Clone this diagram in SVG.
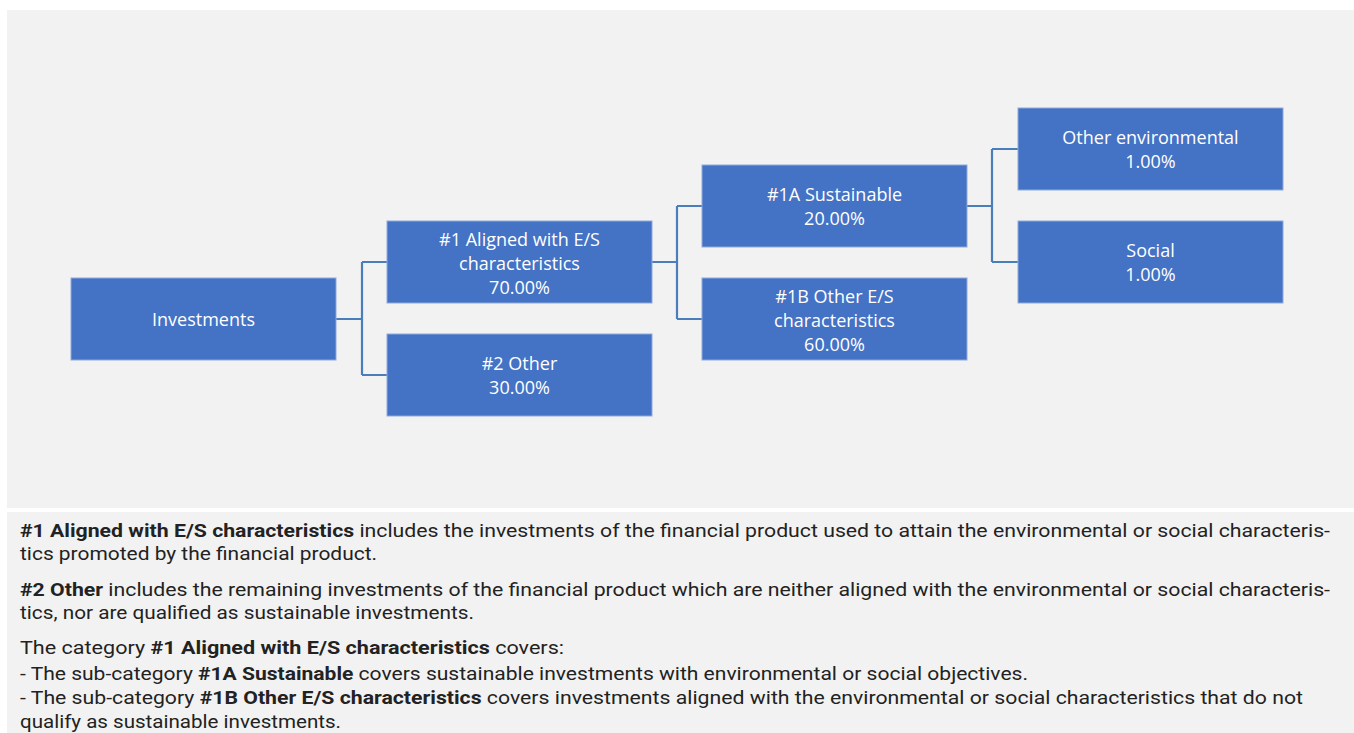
<svg xmlns="http://www.w3.org/2000/svg" width="1354" height="733" viewBox="0 0 1354 733">
<style>
.panel{fill:#f2f2f2}
.box{fill:#4472c4;stroke:#8eaadb;stroke-width:1}
.bt{font-family:"Open Sans","Liberation Sans",sans-serif;font-size:18px;fill:#ffffff;text-anchor:middle}
.conn{fill:none;stroke:#4a7ebb;stroke-width:2.2}
.note{font-family:"Roboto","Liberation Sans",sans-serif;font-size:17.5px;fill:#222222}
.b{font-weight:bold}
</style>
<rect width="1354" height="733" fill="#ffffff"/>
<rect class="panel" x="7" y="10" width="1347" height="498"/>
<rect class="panel" x="7" y="512" width="1347" height="221"/>

<g id="connectors">
<path class="conn" d="M336 319 H362 M362 262 V375 M362 262 H387 M362 375 H387"/>
<path class="conn" d="M652 262 H677 M677 206 V319 M677 206 H702 M677 319 H702"/>
<path class="conn" d="M967 206 H992 M992 149 V262 M992 149 H1018 M992 262 H1018"/>
</g>

<g id="investments">
<rect class="box" x="71" y="278" width="265" height="82"/>
<text class="bt" x="203.5" y="325.5">Investments</text>
</g>
<g id="aligned">
<rect class="box" x="387" y="221" width="265" height="82"/>
<text class="bt" x="519.5" y="245.5">#1 Aligned with E/S</text>
<text class="bt" x="519.5" y="269.5">characteristics</text>
<text class="bt" x="519.5" y="293.5">70.00%</text>
</g>
<g id="other">
<rect class="box" x="387" y="334" width="265" height="82"/>
<text class="bt" x="519.5" y="369.5">#2 Other</text>
<text class="bt" x="519.5" y="393.5">30.00%</text>
</g>
<g id="sustainable">
<rect class="box" x="702" y="165" width="265" height="82"/>
<text class="bt" x="834.5" y="200.5">#1A Sustainable</text>
<text class="bt" x="834.5" y="224.5">20.00%</text>
</g>
<g id="other-es">
<rect class="box" x="702" y="278" width="265" height="82"/>
<text class="bt" x="834.5" y="302.5">#1B Other E/S</text>
<text class="bt" x="834.5" y="326.5">characteristics</text>
<text class="bt" x="834.5" y="350.5">60.00%</text>
</g>
<g id="other-env">
<rect class="box" x="1018" y="108" width="265" height="82"/>
<text class="bt" x="1150.5" y="143.5">Other environmental</text>
<text class="bt" x="1150.5" y="167.5">1.00%</text>
</g>
<g id="social">
<rect class="box" x="1018" y="221" width="265" height="82"/>
<text class="bt" x="1150.5" y="256.5">Social</text>
<text class="bt" x="1150.5" y="280.5">1.00%</text>
</g>

<g id="notes">
<text class="note" x="20" y="537" textLength="1310" lengthAdjust="spacingAndGlyphs"><tspan class="b">#1 Aligned with E/S characteristics</tspan> includes the investments of the financial product used to attain the environmental or social characteris-</text>
<text class="note" x="20" y="560" textLength="357" lengthAdjust="spacingAndGlyphs">tics promoted by the financial product.</text>
<text class="note" x="20" y="596" textLength="1310" lengthAdjust="spacingAndGlyphs"><tspan class="b">#2 Other</tspan> includes the remaining investments of the financial product which are neither aligned with the environmental or social characteris-</text>
<text class="note" x="20" y="619" textLength="454" lengthAdjust="spacingAndGlyphs">tics, nor are qualified as sustainable investments.</text>
<text class="note" x="20" y="654" textLength="544" lengthAdjust="spacingAndGlyphs">The category <tspan class="b">#1 Aligned with E/S characteristics</tspan> covers:</text>
<text class="note" x="20" y="680" textLength="1008" lengthAdjust="spacingAndGlyphs">- The sub-category <tspan class="b">#1A Sustainable</tspan> covers sustainable investments with environmental or social objectives.</text>
<text class="note" x="20" y="704" textLength="1283" lengthAdjust="spacingAndGlyphs">- The sub-category <tspan class="b">#1B Other E/S characteristics</tspan> covers investments aligned with the environmental or social characteristics that do not</text>
<text class="note" x="20" y="728" textLength="321" lengthAdjust="spacingAndGlyphs">qualify as sustainable investments.</text>
</g>
</svg>
